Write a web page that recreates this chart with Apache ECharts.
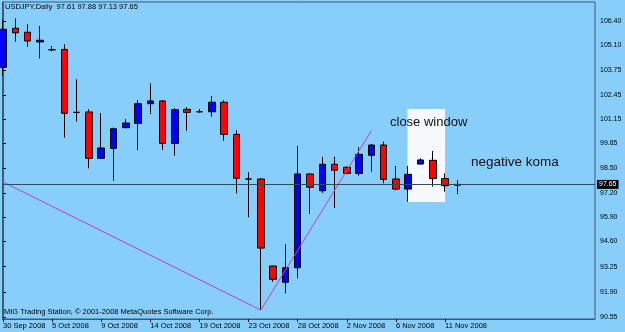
<!DOCTYPE html>
<html>
<head>
<meta charset="utf-8">
<script src="https://cdn.jsdelivr.net/npm/echarts@6.0.0/dist/echarts.min.js"></script>
<style>
html, body { margin: 0; padding: 0; background: #87CEFA; }
#chart { width: 625px; height: 332px; }
</style>
</head>
<body>
<div id="chart"></div>
<script>
// daily bars, weekend sunday bars included (broker feed)
var dates = ['30 Sep 2008', '1 Oct 2008', '2 Oct 2008', '3 Oct 2008', '5 Oct 2008', '6 Oct 2008',
  '7 Oct 2008', '8 Oct 2008', '9 Oct 2008', '10 Oct 2008', '12 Oct 2008', '13 Oct 2008',
  '14 Oct 2008', '15 Oct 2008', '16 Oct 2008', '17 Oct 2008', '19 Oct 2008', '20 Oct 2008',
  '21 Oct 2008', '22 Oct 2008', '23 Oct 2008', '24 Oct 2008', '26 Oct 2008', '27 Oct 2008',
  '28 Oct 2008', '29 Oct 2008', '30 Oct 2008', '31 Oct 2008', '2 Nov 2008', '3 Nov 2008',
  '4 Nov 2008', '5 Nov 2008', '6 Nov 2008', '7 Nov 2008', '9 Nov 2008', '10 Nov 2008',
  '11 Nov 2008', '12 Nov 2008'];
var opens  = [103.92, 106.01, 105.80, 105.28, 104.86, 104.88, 101.51, 101.53, 99.05, 99.58,
  100.69, 100.92, 101.97, 102.12, 99.85, 101.67, 101.54, 101.54, 102.05, 100.33,
  97.94, 97.94, 93.28, 92.41, 93.19, 98.21, 97.31, 98.73, 98.57, 98.24,
  99.21, 99.76, 97.94, 97.40, 98.74, 98.94, 97.96, 97.61];
var highs  = [106.49, 106.54, 106.24, 106.13, 105.06, 105.15, 103.28, 101.67, 101.46, 100.69,
  101.14, 102.17, 103.06, 102.17, 101.73, 101.78, 101.69, 102.38, 102.17, 100.55,
  98.30, 97.97, 93.30, 94.44, 99.71, 98.24, 99.12, 99.13, 98.60, 99.64,
  99.80, 99.94, 98.64, 98.64, 99.05, 99.44, 98.24, 97.88];
var lows   = [103.45, 105.29, 105.02, 104.40, 104.78, 100.15, 101.01, 98.51, 99.02, 97.85,
  100.65, 99.49, 101.42, 99.49, 99.19, 100.53, 101.50, 101.28, 99.99, 97.17,
  95.89, 90.92, 92.44, 91.82, 92.62, 96.07, 97.19, 96.39, 98.20, 98.12,
  98.33, 97.71, 97.34, 96.72, 98.72, 97.53, 97.26, 97.13];
var closes = [105.96, 105.77, 105.33, 105.37, 104.86, 101.46, 101.51, 99.05, 99.60, 100.63,
  100.94, 101.97, 102.12, 99.85, 101.65, 101.51, 101.54, 102.05, 100.33, 97.98,
  97.94, 94.24, 92.57, 93.19, 98.21, 97.50, 98.73, 98.41, 98.24, 99.26,
  99.76, 97.92, 97.40, 98.19, 98.96, 97.96, 97.58, 97.65];

var dateTicks = [0, 4, 8, 12, 16, 20, 24, 28, 32, 36];
var priceTicks = [90.55, 91.90, 93.25, 94.60, 95.90, 97.20, 98.50, 99.85, 101.15, 102.45, 103.75, 105.10, 106.40];

// drawn trend lines (bar index, price)
var trendX = [-0.06, 21, 30];
var trendY = [97.80, 90.92, 100.53];
var lastPrice = 97.65;
var windowFrom = [32.94, 101.69];
var windowTo = [36.0, 96.71];

var candleData = dates.map(function (d, i) {
  var item = { value: [i, opens[i], closes[i], lows[i], highs[i]] };
  if (Math.abs(closes[i] - opens[i]) < 0.05) {
    item.itemStyle = { color: '#000', color0: '#000', borderColor: '#000', borderColor0: '#000' };
  }
  return item;
});
var trendData = trendX.map(function (x, i) { return [x, trendY[i]]; });

var frame = '#3f5a74';
var font = 'Liberation Sans';

var myChart = echarts.init(document.getElementById('chart'));
var option = {
  animation: false,
  backgroundColor: '#87CEFA',
  grid: { left: 2, right: 30, top: 2, bottom: 13, show: true, borderColor: frame, borderWidth: 1 },
  xAxis: {
    type: 'value', min: -0.04, max: 48.21,
    splitLine: { show: false },
    axisLine: { show: true, lineStyle: { color: frame } },
    axisTick: { show: true, customValues: dateTicks, length: 3, lineStyle: { color: '#000' } },
    axisLabel: {
      customValues: dateTicks,
      formatter: function (v) { return dates[Math.round(v)]; },
      align: 'left', margin: 3, fontSize: 7.5, color: '#000', fontFamily: font
    }
  },
  yAxis: {
    type: 'value', position: 'right', min: 90.443, max: 107.418,
    splitLine: { show: false },
    axisLine: { show: true, lineStyle: { color: frame } },
    axisTick: { show: true, customValues: priceTicks, length: 3, lineStyle: { color: '#000' } },
    axisLabel: {
      customValues: priceTicks,
      formatter: function (v) { return v.toFixed(2); },
      margin: 5, fontSize: 7, color: '#000', fontFamily: font
    }
  },
  graphic: [
    { type: 'text', z: 100, left: 5, top: 3, style: { text: 'USDJPY,Daily  97.61 97.88 97.13 97.65', fontSize: 7.5, fontFamily: font, fill: '#000' } },
    { type: 'text', z: 100, left: 4, top: 308, style: { text: 'MIG Trading Station, \u00a9 2001-2008 MetaQuotes Software Corp.', fontSize: 7.5, fontFamily: font, fill: '#000' } },
    { type: 'text', z: 100, left: 390, top: 116, style: { text: 'close window', fontSize: 13, fontFamily: font, fill: '#111' } },
    { type: 'text', z: 100, left: 471, top: 155, style: { text: 'negative koma', fontSize: 13.5, fontFamily: font, fill: '#111' } }
  ],
  series: [{
    type: 'candlestick',
    encode: { x: 0, y: [1, 2, 3, 4] },
    barWidth: 7,
    itemStyle: { color: '#0000FF', color0: '#FF0000', borderColor: '#000', borderColor0: '#000', borderWidth: 1 },
    data: candleData,
    markArea: {
      silent: true,
      itemStyle: { color: '#F6F9FB', opacity: 1 },
      data: [[{ coord: windowFrom }, { coord: windowTo }]]
    },
    markLine: {
      silent: true, symbol: 'none',
      lineStyle: { color: '#34495c', width: 1, type: 'solid' },
      label: {
        position: 'end', formatter: lastPrice.toFixed(2), distance: 2,
        backgroundColor: '#000', color: '#fff', fontSize: 7, fontFamily: font, padding: [1, 2]
      },
      data: [{ yAxis: lastPrice }]
    }
  }, {
    type: 'line',
    data: trendData,
    symbol: 'none',
    z: 3,
    lineStyle: { color: '#C040C0', width: 1 }
  }]
};
myChart.setOption(option);
</script>
</body>
</html>
